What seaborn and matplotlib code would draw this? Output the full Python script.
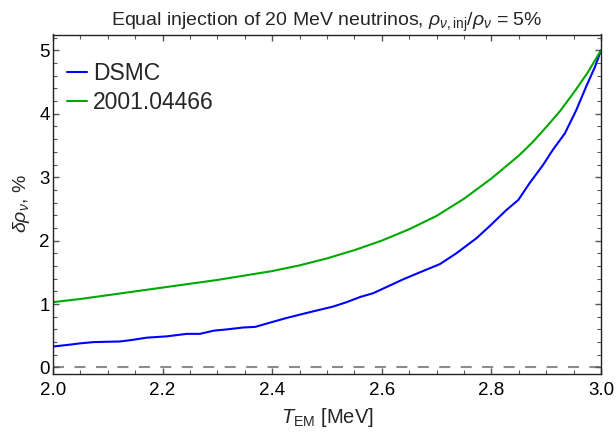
import numpy as np
import pandas as pd
import matplotlib
matplotlib.use("Agg")
import matplotlib.pyplot as plt
import seaborn as sns
from matplotlib.ticker import MultipleLocator, FormatStrFormatter

# DSMC curve (T_EM in MeV, delta rho_nu in %)
dsmc_T = [2.000, 2.031, 2.049, 2.074, 2.122, 2.141, 2.171, 2.207, 2.244, 2.268,
          2.293, 2.317, 2.347, 2.369, 2.389, 2.426, 2.463, 2.511, 2.536, 2.560,
          2.584, 2.609, 2.639, 2.675, 2.706, 2.736, 2.773, 2.797, 2.827, 2.849,
          2.870, 2.894, 2.912, 2.934, 2.955, 2.973, 2.989, 3.000]
dsmc_val = [0.33, 0.36, 0.38, 0.40, 0.41, 0.43, 0.47, 0.49, 0.53, 0.53,
            0.58, 0.60, 0.63, 0.64, 0.69, 0.78, 0.86, 0.96, 1.03, 1.11,
            1.17, 1.27, 1.39, 1.52, 1.63, 1.80, 2.04, 2.23, 2.48, 2.64,
            2.91, 3.19, 3.43, 3.69, 4.06, 4.43, 4.74, 5.00]

# 2001.04466 curve
ref_T = [2.00, 2.05, 2.10, 2.15, 2.20, 2.25, 2.30, 2.35, 2.40, 2.45, 2.50,
         2.55, 2.60, 2.65, 2.70, 2.75, 2.80, 2.85, 2.875, 2.90, 2.925, 2.95,
         2.975, 3.00]
ref_val = [1.03, 1.08, 1.14, 1.20, 1.26, 1.32, 1.38, 1.45, 1.52, 1.61, 1.72,
           1.85, 2.00, 2.18, 2.39, 2.66, 2.98, 3.34, 3.55, 3.79, 4.04, 4.33,
           4.64, 5.00]

series_names = ["DSMC", "2001.04466"]
series_colors = ["#0000ff", "#00a800"]

sns.set_theme(style="ticks")
plt.rcParams['font.family'] = ['Liberation Sans', 'DejaVu Sans']
plt.rcParams['mathtext.fontset'] = 'custom'
plt.rcParams['mathtext.rm'] = 'Liberation Sans'
plt.rcParams['mathtext.it'] = 'Liberation Sans:italic'
plt.rcParams['mathtext.bf'] = 'Liberation Sans:bold'

df = pd.concat([
    pd.DataFrame({"T": dsmc_T, "val": dsmc_val, "series": series_names[0]}),
    pd.DataFrame({"T": ref_T, "val": ref_val, "series": series_names[1]}),
], ignore_index=True)

fig = plt.figure(figsize=(6.16, 4.34), dpi=100)
ax = fig.add_axes([53 / 616, 1 - 373.5 / 434, 548 / 616, 339 / 434])

sns.lineplot(data=df, x="T", y="val", hue="series", hue_order=series_names,
             palette=dict(zip(series_names, series_colors)), linewidth=1.5,
             estimator=None, sort=False, ax=ax, legend=False)
handles = list(ax.get_lines()[:2])

ax.axhline(0, color="#8c8c8c", lw=1.5, ls=(0, (5.3, 5.0)), zorder=0.5)

ax.set_xlim(2.0, 3.0)
ax.set_ylim(-0.095, 5.25)
ax.xaxis.set_major_locator(MultipleLocator(0.2))
ax.xaxis.set_minor_locator(MultipleLocator(0.05))
ax.xaxis.set_major_formatter(FormatStrFormatter('%.1f'))
ax.yaxis.set_major_locator(MultipleLocator(1))
ax.yaxis.set_minor_locator(MultipleLocator(0.2))
ax.yaxis.set_major_formatter(FormatStrFormatter('%d'))

ax.tick_params(which='both', direction='in', top=True, right=True,
               color='#555555', labelsize=13.5, labelcolor='black')
ax.tick_params(axis='x', which='major', length=4.5, width=1, pad=6)
ax.tick_params(axis='y', which='major', length=4.5, width=1, pad=2.5)
ax.tick_params(which='minor', length=2.8, width=0.8)
for sp in ax.spines.values():
    sp.set_color('#222222')
    sp.set_linewidth(1.0)

ax.set_xlabel(r"$T_{\mathrm{EM}}$ [MeV]", fontsize=14.5, labelpad=5)
ax.set_ylabel(r"$\delta\rho_{\nu}$, %", fontsize=14, labelpad=5)
ax.set_title(r"Equal injection of 20 MeV neutrinos, $\rho_{\nu,\mathrm{inj}}/\rho_{\nu}$ = 5%",
             fontsize=14, pad=6)

ax.legend(handles, series_names, loc='upper left', bbox_to_anchor=(0.0088, 0.947),
          borderaxespad=0, frameon=False, fontsize=16.5, handlelength=0.87,
          handletextpad=0.26, labelspacing=0.27)

fig.savefig("out.png", dpi=100)
